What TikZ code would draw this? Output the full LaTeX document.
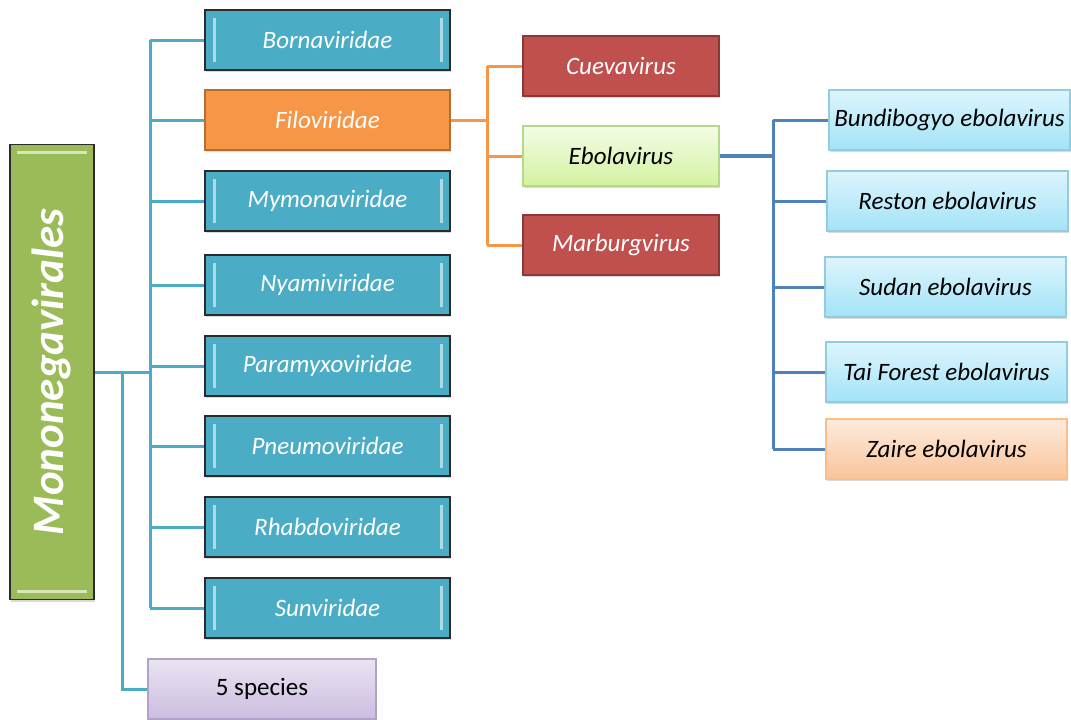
\documentclass[tikz,border=0pt]{standalone}
\usepackage{fontspec}
\setmainfont{Carlito}
\usetikzlibrary{shadows}

\definecolor{famteal}{HTML}{4BACC6}
\definecolor{famedge}{HTML}{2B2B2B}
\definecolor{filoorange}{HTML}{F79646}
\definecolor{filoedge}{HTML}{B66D31}
\definecolor{genusred}{HTML}{C0504D}
\definecolor{genusedge}{HTML}{8C3836}
\definecolor{ordergreen}{HTML}{9BBB59}
\definecolor{ebotop}{HTML}{F3FCE6}
\definecolor{ebobottom}{HTML}{D3F2A0}
\definecolor{eboedge}{HTML}{B5D98A}
\definecolor{sptop}{HTML}{DDF5FD}
\definecolor{spbottom}{HTML}{A3E3F8}
\definecolor{spedge}{HTML}{93CDDD}
\definecolor{zaitop}{HTML}{FDEBDD}
\definecolor{zaibottom}{HTML}{FAC49A}
\definecolor{zaiedge}{HTML}{F9BE8C}
\definecolor{lavtop}{HTML}{EAE4F2}
\definecolor{lavbottom}{HTML}{CBBDE0}
\definecolor{lavedge}{HTML}{B3A2C7}
\definecolor{ebolablue}{HTML}{4F81BD}

\tikzset{
  box/.style={rectangle, draw, line width=1.2pt, inner sep=0pt,
    minimum width=245pt, minimum height=60pt,
    font=\fontsize{25}{30}\selectfont\itshape,
    drop shadow={opacity=0.3, shadow xshift=1pt, shadow yshift=-2pt}},
  sidebevel/.style={path picture={
    \draw[line width=3pt, white!55!famteal]
      ([xshift=9pt,yshift=-8pt]path picture bounding box.north west) --
      ([xshift=9pt,yshift=8pt]path picture bounding box.south west);
    \draw[line width=3pt, white!55!famteal]
      ([xshift=-9pt,yshift=-8pt]path picture bounding box.north east) --
      ([xshift=-9pt,yshift=8pt]path picture bounding box.south east);}},
  fambox/.style={box, fill=famteal, draw=famedge, text=white, sidebevel},
  filobox/.style={box, fill=filoorange, draw=filoedge, text=white},
  genusbox/.style={box, fill=genusred, draw=genusedge, text=white,
    minimum width=196pt},
  ebobox/.style={box, top color=ebotop, bottom color=ebobottom,
    draw=eboedge, text=black, minimum width=196pt},
  speciesbox/.style={box, top color=sptop, bottom color=spbottom,
    draw=spedge, text=black, minimum width=241pt},
  zairebox/.style={speciesbox, top color=zaitop, bottom color=zaibottom,
    draw=zaiedge},
  countbox/.style={box, top color=lavtop, bottom color=lavbottom,
    draw=lavedge, text=black, minimum width=228pt,
    font=\fontsize{25}{30}\selectfont},
  orderbox/.style={box, fill=ordergreen, draw=famedge,
    minimum width=84pt, minimum height=455pt, text=white,
    font=\fontsize{45}{54}\selectfont\bfseries\itshape,
    path picture={
      \draw[line width=3pt, white!60!ordergreen]
        ([xshift=7pt,yshift=-8pt]path picture bounding box.north west) --
        ([xshift=-7pt,yshift=-8pt]path picture bounding box.north east);
      \draw[line width=3pt, white!60!ordergreen]
        ([xshift=7pt,yshift=8pt]path picture bounding box.south west) --
        ([xshift=-7pt,yshift=8pt]path picture bounding box.south east);}},
  famline/.style={draw=famteal, line width=3pt},
  filoline/.style={draw=filoorange, line width=3pt},
  eboline/.style={draw=ebolablue, line width=3pt},
}

\begin{document}
\begin{tikzpicture}[x=1pt, y=-1pt]
  \useasboundingbox (0,0) rectangle (1071,720);

  % Order and families
  \node[orderbox] (mono) at (52,372) {\rotatebox{90}{Mononegavirales}};
  \node[fambox] (bor) at (327.5,40) {Bornaviridae};
  \node[filobox] (filo) at (327.5,120) {Filoviridae};
  \node[fambox] (mym) at (327.5,201) {Mymonaviridae};
  \node[fambox] (nya) at (327.5,285) {Nyamiviridae};
  \node[fambox] (par) at (327.5,366) {Paramyxoviridae};
  \node[fambox] (pne) at (327.5,446) {Pneumoviridae};
  \node[fambox] (rha) at (327.5,527) {Rhabdoviridae};
  \node[fambox] (sun) at (327.5,608) {Sunviridae};
  \node[countbox] (five) at (262,689) {5 species};

  % Genera
  \node[genusbox] (cue) at (621,66) {Cuevavirus};
  \node[ebobox] (ebo) at (621,156) {Ebolavirus};
  \node[genusbox] (mar) at (621,245) {Marburgvirus};

  % Species
  \node[speciesbox] (bun) at (949.5,120) {Bundibogyo ebolavirus};
  \node[speciesbox] (res) at (947.5,201) {Reston ebolavirus};
  \node[speciesbox] (sud) at (945.5,287) {Sudan ebolavirus};
  \node[speciesbox] (tai) at (946.5,372) {Tai Forest ebolavirus};
  \node[zairebox] (zai) at (946.5,449) {Zaire ebolavirus};

  % Lines
  \coordinate (famtrunk) at (150,372);
  \coordinate (fivetrunk) at (122,372);
  \draw[famline] (mono.east) -- (famtrunk);
  \draw[famline] (bor.west -| famtrunk) -- (sun.west -| famtrunk);
  \foreach \fam in {bor,filo,mym,nya,par,pne,rha,sun}
    \draw[famline] (\fam.west -| famtrunk) -- (\fam.west);
  \draw[famline] (fivetrunk) |- (five.west);

  \coordinate (filotrunk) at (487,120);
  \draw[filoline] (filo.east) -- (filotrunk);
  \draw[filoline] (cue.west -| filotrunk) -- (mar.west -| filotrunk);
  \foreach \gen in {cue,ebo,mar}
    \draw[filoline] (\gen.west -| filotrunk) -- (\gen.west);

  \coordinate (ebotrunk) at (773,156);
  \draw[eboline, line width=4pt] (ebo.east) -- (ebotrunk);
  \draw[eboline] (bun.west -| ebotrunk) -- (zai.west -| ebotrunk);
  \foreach \sp in {bun,res,sud,tai,zai}
    \draw[eboline] (\sp.west -| ebotrunk) -- (\sp.west);

\end{tikzpicture}
\end{document}
